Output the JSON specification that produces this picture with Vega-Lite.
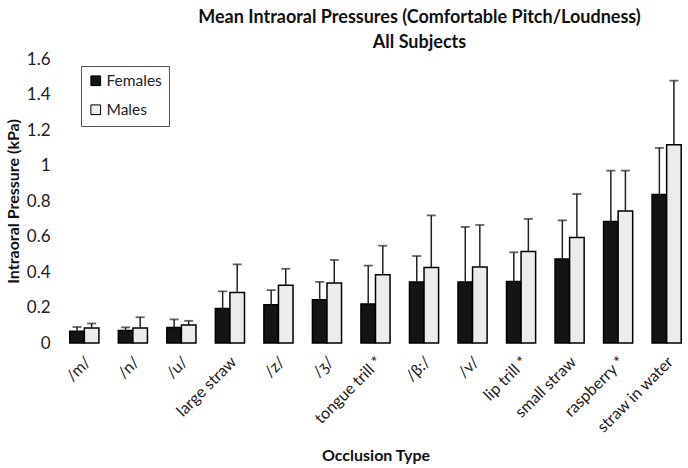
{
  "$schema": "https://vega.github.io/schema/vega-lite/v6.json",
  "width": 625,
  "height": 284,
  "autosize": {"type": "none"},
  "padding": {"left": 63, "top": 59, "right": 0, "bottom": 125},
  "background": "white",
  "config": {
    "font": "Lato",
    "view": {"stroke": null},
    "axis": {"labelFont": "Lato", "titleFont": "Lato", "labelColor": "#222", "titleColor": "#111"}
  },
  "title": {
    "text": ["Mean Intraoral Pressures (Comfortable Pitch/Loudness)", "All Subjects"],
    "font": "Lato",
    "fontSize": 18,
    "fontWeight": "bold",
    "color": "#111",
    "lineHeight": 25,
    "anchor": "middle",
    "dx": 44,
    "offset": -2
  },
  "data": {
    "values": [
      {"type": "/m/", "gender": "Females", "value": 0.066, "err": 0.09},
      {"type": "/m/", "gender": "Males", "value": 0.085, "err": 0.11},
      {"type": "/n/", "gender": "Females", "value": 0.07, "err": 0.088},
      {"type": "/n/", "gender": "Males", "value": 0.085, "err": 0.145},
      {"type": "/u/", "gender": "Females", "value": 0.088, "err": 0.133},
      {"type": "/u/", "gender": "Males", "value": 0.102, "err": 0.125},
      {"type": "large straw", "gender": "Females", "value": 0.195, "err": 0.291},
      {"type": "large straw", "gender": "Males", "value": 0.285, "err": 0.443},
      {"type": "/z/", "gender": "Females", "value": 0.216, "err": 0.298},
      {"type": "/z/", "gender": "Males", "value": 0.325, "err": 0.418},
      {"type": "/ʒ/", "gender": "Females", "value": 0.244, "err": 0.344},
      {"type": "/ʒ/", "gender": "Males", "value": 0.338, "err": 0.468},
      {"type": "tongue trill *", "gender": "Females", "value": 0.22, "err": 0.436},
      {"type": "tongue trill *", "gender": "Males", "value": 0.385, "err": 0.548},
      {"type": "/β:/", "gender": "Females", "value": 0.344, "err": 0.49},
      {"type": "/β:/", "gender": "Males", "value": 0.426, "err": 0.719},
      {"type": "/v/", "gender": "Females", "value": 0.344, "err": 0.654},
      {"type": "/v/", "gender": "Males", "value": 0.428, "err": 0.665},
      {"type": "lip trill *", "gender": "Females", "value": 0.347, "err": 0.511},
      {"type": "lip trill *", "gender": "Males", "value": 0.516, "err": 0.699},
      {"type": "small straw", "gender": "Females", "value": 0.473, "err": 0.691},
      {"type": "small straw", "gender": "Males", "value": 0.595, "err": 0.839},
      {"type": "raspberry *", "gender": "Females", "value": 0.684, "err": 0.971},
      {"type": "raspberry *", "gender": "Males", "value": 0.744, "err": 0.971},
      {"type": "straw in water", "gender": "Females", "value": 0.836, "err": 1.099},
      {"type": "straw in water", "gender": "Males", "value": 1.117, "err": 1.478}
    ]
  },
  "encoding": {
    "x": {
      "field": "type",
      "type": "nominal",
      "sort": null,
      "scale": {"paddingInner": 0.4, "paddingOuter": 0.14},
      "axis": {
        "title": "Occlusion Type",
        "titleFontSize": 16,
        "titleFontWeight": "bold",
        "titlePadding": 12,
        "labelAngle": -45,
        "labelAlign": "right",
        "labelBaseline": "middle",
        "labelFontSize": 16,
        "labelPadding": 16,
        "labelOffset": 4,
        "labelOverlap": false,
        "domain": false,
        "ticks": false
      }
    },
    "xOffset": {"field": "gender", "type": "nominal", "scale": {"paddingInner": 0, "paddingOuter": 0}},
    "y": {
      "field": "value",
      "type": "quantitative",
      "scale": {"domain": [0, 1.6], "nice": false},
      "axis": {
        "title": "Intraoral Pressure (kPa)",
        "titleFontSize": 16,
        "titleFontWeight": "bold",
        "titlePadding": 5,
        "values": [0, 0.2, 0.4, 0.6, 0.8, 1, 1.2, 1.4, 1.6],
        "labelExpr": "'' + datum.value",
        "labelFontSize": 17,
        "labelPadding": 13,
        "labelOverlap": false,
        "labelFlush": false,
        "grid": false,
        "domain": false,
        "ticks": false
      }
    }
  },
  "layer": [
    {
      "mark": {"type": "bar", "stroke": "#000", "strokeWidth": 1.5},
      "encoding": {
        "fill": {
          "field": "gender",
          "type": "nominal",
          "scale": {"domain": ["Females", "Males"], "range": ["#141414", "#ececec"]},
          "legend": {
            "title": null,
            "orient": "none",
            "legendX": 18,
            "legendY": 7,
            "direction": "vertical",
            "symbolType": "square",
            "symbolSize": 95,
            "symbolStrokeColor": "#000",
            "symbolStrokeWidth": 1,
            "labelFontSize": 15.5,
            "labelFont": "Lato",
            "labelColor": "#222",
            "rowPadding": 12,
            "padding": 7,
            "strokeColor": "#555",
            "fillColor": "white",
            "labelOffset": 3
          }
        }
      }
    },
    {
      "mark": {"type": "rule", "strokeWidth": 1.5, "color": "#222"},
      "encoding": {
        "y2": {"field": "err"}
      }
    },
    {
      "mark": {"type": "tick", "size": 9, "thickness": 1.8, "color": "#222"},
      "encoding": {
        "y": {"field": "err", "type": "quantitative"}
      }
    }
  ]
}
